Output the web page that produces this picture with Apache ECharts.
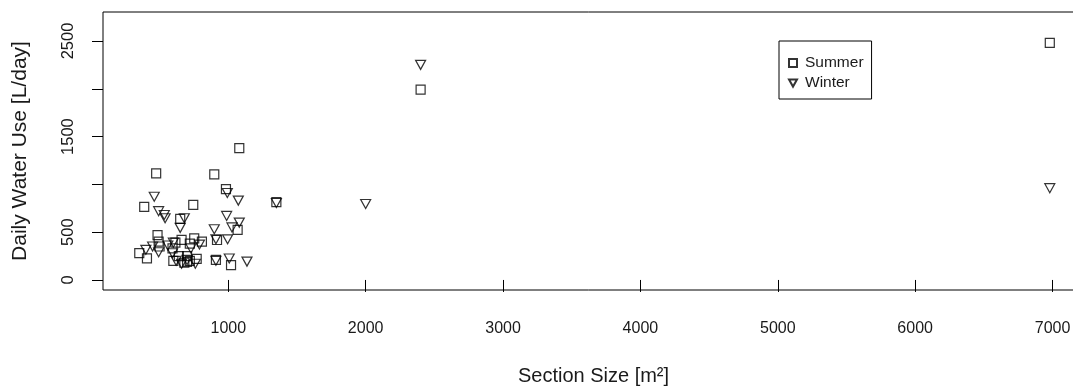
<!DOCTYPE html>
<html>
<head>
<meta charset="utf-8">
<script src="https://cdn.jsdelivr.net/npm/echarts@6/dist/echarts.min.js"></script>
<style>
  html, body { margin: 0; padding: 0; background: #fff; }
  #chart { width: 1073px; height: 387px; }
</style>
</head>
<body>
<div id="chart"></div>
<script>
// Section size [m²] and daily water use [L/day], summer measurements
const summerSize = [352, 408, 388, 475, 485, 493, 500, 594, 600, 640, 660, 650, 680, 700, 720, 745, 752, 770, 808, 898, 918, 910, 983, 1020, 1068, 1080, 1350, 2400, 6980, 700, 615, 720];
const summerUse  = [280, 225, 765, 1115, 470, 400, 350, 330, 200, 250, 420, 640, 180, 190, 200, 785, 435, 220, 400, 1105, 418, 210, 950, 155, 523, 1380, 815, 1990, 2480, 250, 390, 380];

// Winter measurements
const winterSize = [400, 449, 461, 493, 534, 540, 493, 600, 594, 650, 680, 620, 660, 700, 728, 760, 790, 898, 910, 910, 988, 993, 995, 1007, 1027, 1073, 1080, 1136, 1350, 2000, 2400, 6980, 560];
const winterUse  = [315, 350, 870, 720, 680, 645, 290, 390, 280, 545, 645, 200, 170, 210, 330, 170, 370, 530, 425, 200, 670, 910, 425, 225, 550, 830, 600, 192, 805, 795, 2250, 960, 360];

// Axis ticks and the subset of labels that are printed
const xTicks = [1000, 2000, 3000, 4000, 5000, 6000, 7000];
const yTicks = [0, 500, 1000, 1500, 2000, 2500];
const yLabels = [0, 500, 1500, 2500];

const pairs = (xs, ys) => xs.map((x, i) => [x, ys[i]]);
const plain = v => String(v);

const textColor = '#1a1a1a';
const font = 'Liberation Sans, Arial, sans-serif';
const squareIcon = 'rect';
const downTriangle = 'path://M0,0 L10,0 L5,9 Z';

const chart = echarts.init(document.getElementById('chart'), null, { renderer: 'canvas' });
chart.setOption({
  animation: false,
  backgroundColor: '#ffffff',
  grid: {
    left: 103, top: 12, right: -11, bottom: 97,
    outerBoundsMode: 'none',
    containLabel: false,
    show: true, borderColor: '#000', borderWidth: 1, backgroundColor: 'transparent'
  },
  legend: {
    orient: 'vertical',
    left: 779, top: 41,
    padding: [14, 8, 8, 9],
    itemGap: 4,
    itemWidth: 8, itemHeight: 8,
    borderColor: '#000', borderWidth: 1,
    textStyle: { fontFamily: font, fontSize: 15.5, color: textColor, padding: [0, 0, 0, 3] },
    data: [
      { name: 'Summer', icon: squareIcon },
      { name: 'Winter', icon: downTriangle }
    ]
  },
  xAxis: {
    type: 'value',
    min: 88, max: 7229,
    name: 'Section Size [m²]',
    nameLocation: 'middle',
    nameGap: 76,
    nameTextStyle: { fontFamily: font, fontSize: 20, color: textColor },
    axisLine: { show: false },
    splitLine: { show: false },
    axisTick: { show: true, inside: false, length: 12, customValues: xTicks, lineStyle: { color: '#000' } },
    axisLabel: { customValues: xTicks, formatter: plain, margin: 31, fontFamily: font, fontSize: 16, color: textColor }
  },
  yAxis: {
    type: 'value',
    min: -105, max: 2803,
    name: 'Daily Water Use [L/day]',
    nameLocation: 'middle',
    nameGap: 72,
    nameRotate: 90,
    nameTextStyle: { fontFamily: font, fontSize: 21, color: textColor },
    axisLine: { show: false },
    splitLine: { show: false },
    axisTick: { show: true, inside: false, length: 11, customValues: yTicks, lineStyle: { color: '#000' } },
    axisLabel: { customValues: yLabels, formatter: plain, rotate: 90, margin: 26, fontFamily: font, fontSize: 16.5, color: textColor }
  },
  series: [
    {
      name: 'Summer',
      type: 'scatter',
      symbol: squareIcon,
      symbolSize: 9,
      itemStyle: { color: 'rgba(0,0,0,0)', borderColor: '#000', borderWidth: 1.2 },
      data: pairs(summerSize, summerUse)
    },
    {
      name: 'Winter',
      type: 'scatter',
      symbol: downTriangle,
      symbolSize: [10, 9],
      itemStyle: { color: 'rgba(0,0,0,0)', borderColor: '#000', borderWidth: 1.2 },
      data: pairs(winterSize, winterUse)
    }
  ]
});
</script>
</body>
</html>
